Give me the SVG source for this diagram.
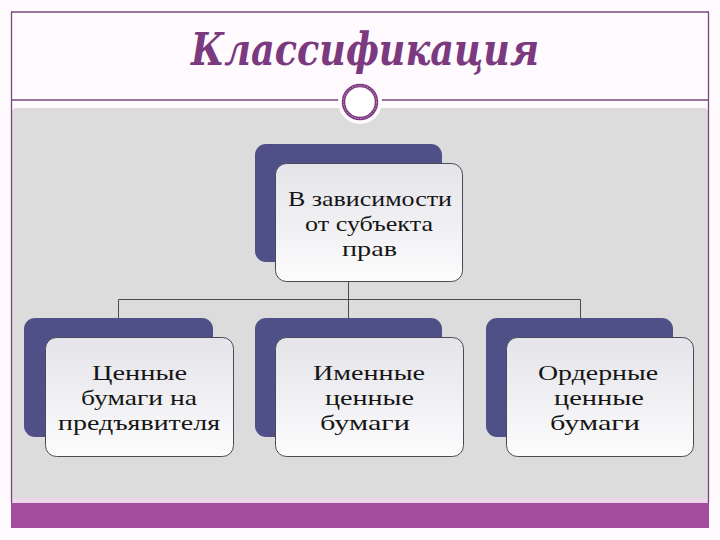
<svg xmlns="http://www.w3.org/2000/svg" width="720" height="540" viewBox="0 0 720 540">
<defs>
<linearGradient id="fg" x1="0" y1="0" x2="0" y2="1">
<stop offset="0" stop-color="#e4e4ea"/>
<stop offset="0.55" stop-color="#f1f1f4"/>
<stop offset="1" stop-color="#fcfcfd"/>
</linearGradient>
<style>
.back{fill:#4f5088;}
.front{fill:url(#fg);stroke:#4a4a55;stroke-width:1;}
.conn{fill:none;stroke:#4a4a4a;stroke-width:1;}
.frame{fill:none;stroke:#7a4a7e;stroke-width:1.3;}
</style>
</defs>
<rect x="0" y="0" width="720" height="540" fill="#fefafe"/>
<rect x="12" y="108" width="696" height="393" rx="4" fill="#dcdcdc"/>
<rect x="12" y="498" width="696" height="5" fill="#ecd6ec"/>
<rect x="11" y="503" width="698" height="25" fill="#a24ca0"/>
<g id="frame">
<line class="frame" x1="11.5" y1="12" x2="11.5" y2="503"/>
<line class="frame" x1="708.5" y1="12" x2="708.5" y2="503"/>
<line class="frame" x1="11" y1="12" x2="709" y2="12"/>
<line class="frame" x1="11" y1="100" x2="340" y2="100"/>
<line class="frame" x1="381" y1="100" x2="709" y2="100"/>
<circle cx="360" cy="102" r="22" fill="#fefafe"/>
<circle cx="360" cy="102" r="16.5" fill="#ffffff" stroke="#7b3a80" stroke-width="3.5"/>
<circle cx="360" cy="102" r="16.5" fill="none" stroke="#d9b8da" stroke-width="0.8" stroke-dasharray="1.5 1.5"/>
</g>
<text x="365" y="65" font-family="'DejaVu Serif', 'Liberation Serif', serif" font-size="44" font-weight="bold" font-style="italic" fill="#7b3a80" text-anchor="middle" textLength="348" lengthAdjust="spacingAndGlyphs">Классификация</text>
<g id="connectors">
<path class="conn" d="M348.5 281 V299.5 M118.5 299.5 H580.5 M118.5 299.5 V318 M348.5 299.5 V318 M580.5 299.5 V318"/>
</g>
<g font-family="'Liberation Serif', 'DejaVu Serif', serif" font-size="22" fill="#151515" text-anchor="middle">
<g id="node-top">
<rect class="back" x="255" y="144" width="187" height="118" rx="11"/>
<rect class="front" x="275.5" y="163.5" width="187" height="118" rx="11"/>
<text x="370" y="206" textLength="164" lengthAdjust="spacingAndGlyphs">В зависимости</text>
<text x="369" y="231" textLength="128" lengthAdjust="spacingAndGlyphs">от субъекта</text>
<text x="369.5" y="256" textLength="55" lengthAdjust="spacingAndGlyphs">прав</text>
</g>
<g id="node-bearer">
<rect class="back" x="24" y="318" width="189" height="119" rx="11"/>
<rect class="front" x="45.5" y="337.5" width="188" height="119" rx="11"/>
<text x="139.5" y="380" textLength="95" lengthAdjust="spacingAndGlyphs">Ценные</text>
<text x="139" y="405" textLength="116" lengthAdjust="spacingAndGlyphs">бумаги на</text>
<text x="139" y="430" textLength="162" lengthAdjust="spacingAndGlyphs">предъявителя</text>
</g>
<g id="node-named">
<rect class="back" x="255" y="318" width="187" height="119" rx="11"/>
<rect class="front" x="275.5" y="337.5" width="188" height="119" rx="11"/>
<text x="369" y="380" textLength="112" lengthAdjust="spacingAndGlyphs">Именные</text>
<text x="369.5" y="405" textLength="89" lengthAdjust="spacingAndGlyphs">ценные</text>
<text x="365" y="430" textLength="90" lengthAdjust="spacingAndGlyphs">бумаги</text>
</g>
<g id="node-order">
<rect class="back" x="486" y="318" width="187" height="119" rx="11"/>
<rect class="front" x="506.5" y="337.5" width="187" height="119" rx="11"/>
<text x="598" y="380" textLength="120" lengthAdjust="spacingAndGlyphs">Ордерные</text>
<text x="599" y="405" textLength="90" lengthAdjust="spacingAndGlyphs">ценные</text>
<text x="595" y="430" textLength="90" lengthAdjust="spacingAndGlyphs">бумаги</text>
</g>
</g>
</svg>
